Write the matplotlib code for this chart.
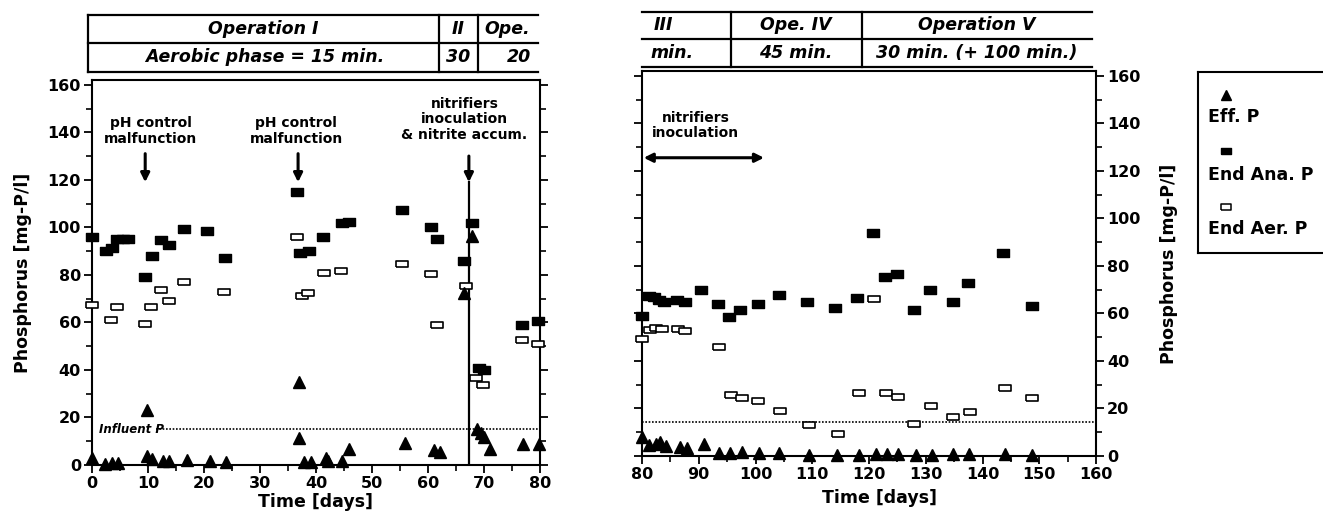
import numpy as np
import matplotlib.pyplot as plt
from matplotlib.ticker import MultipleLocator

plt.rcParams['font.family'] = ['DejaVu Sans']
plt.rcParams['font.weight'] = 'bold'

W, H = 1323, 512

# ---- left panel, days 0-80 ----
eff_x1 = [0, 2.4, 3.5, 4.6, 9.9, 9.9, 10.8, 12.7, 13.8, 17, 21, 24, 37, 37, 37.8, 39.1,
          41.8, 42.1, 44.6, 45.9, 55.9, 61, 62.1, 66.5, 67.8, 68.8, 69.5, 70, 71, 77, 79.9]
eff_y1 = [3, 0.5, 1, 1, 23.3, 3.7, 2.7, 1.6, 1.6, 2, 1.6, 1.3, 35, 11.4, 1.4, 1.4,
          3, 1.8, 1.8, 6.7, 9.4, 6.3, 5.3, 72.5, 96.4, 15, 13.5, 11.8, 6.8, 9, 9]

ana_x1 = [0, 2.5, 3.5, 4.5, 5.5, 6.5, 9.5, 10.7, 12.3, 13.7, 16.5, 20.5, 23.8, 36.6, 37.2,
          38.7, 41.3, 44.6, 45.9, 55.4, 60.5, 61.6, 66.5, 67.8, 69.1, 70.0, 76.8, 79.7]
ana_y1 = [96, 90, 91.5, 95, 95, 95, 79, 88, 94.6, 92.6, 99.5, 98.4, 87.3, 115, 89,
          90, 96, 102, 102.2, 107.3, 100, 95, 86, 102, 41, 40, 59, 60.4]

aer_x1 = [0, 3.4, 4.5, 9.4, 10.5, 12.4, 13.7, 16.5, 23.5, 36.6, 37.5, 38.6, 41.5, 44.4,
          55.4, 60.5, 61.6, 66.7, 68.6, 69.8, 76.8, 79.7]
aer_y1 = [67.4, 61, 66.3, 59.3, 66.5, 73.8, 68.8, 77.1, 72.7, 96, 71, 72.3, 81, 81.6,
          84.5, 80.5, 58.7, 75.4, 36.4, 33.5, 52.5, 51]

# ---- right panel, days 80-160 ----
eff_x2 = [80, 81.2, 82.4, 83.1, 84.2, 86.7, 88, 91, 93.5, 95.5, 97.6, 100.7, 104.2, 109.4,
          114.3, 118.3, 121.2, 123.2, 125.1, 128.2, 131.1, 134.8, 137.6, 143.9, 148.8]
eff_y2 = [8, 4.6, 4.9, 5.9, 4.2, 3.9, 3.2, 4.9, 1.4, 1.4, 1.7, 1.4, 1.1, 0.3,
          0.3, 0.3, 0.7, 0.7, 0.7, 0.3, 0.3, 0.7, 1, 1, 0.6]

ana_x2 = [80, 81.2, 82.2, 83, 83.9, 86.2, 87.6, 90.4, 93.4, 95.4, 97.3, 100.4, 104.2, 109,
          114, 117.9, 120.7, 122.9, 124.9, 128, 130.7, 134.8, 137.5, 143.7, 148.7]
ana_y2 = [59, 67.4, 66.9, 65.7, 65, 65.5, 64.8, 69.7, 63.9, 58.5, 61.3, 64, 67.6, 64.6,
          62.2, 66.4, 94, 75.5, 76.5, 61.5, 70, 64.8, 73, 85.6, 63.2]

aer_x2 = [80, 81.4, 82.5, 83.5, 86.4, 87.6, 93.5, 95.7, 97.6, 100.5, 104.4, 109.4, 114.5,
          118.3, 120.9, 123, 125.1, 128, 131, 134.8, 137.8, 143.9, 148.8]
aer_y2 = [49.2, 52.9, 53.8, 53.4, 53.4, 52.4, 45.9, 25.5, 24.5, 23, 18.9, 12.9, 9.1,
          26.6, 66.2, 26.6, 24.8, 13.3, 21, 16.5, 18.5, 28.5, 24.5]

influent_left = 15
influent_right = 14.5

# flat rectangle used for the square markers
rect = [(-1, -0.62), (1, -0.62), (1, 0.62), (-1, 0.62), (-1, -0.62)]


def fbox(x0, y0, x1, y1):
    return [x0 / W, 1 - y1 / H, (x1 - x0) / W, (y1 - y0) / H]


def style_axes(ax, xlo, xhi):
    ax.set_xlim(xlo, xhi)
    ax.set_ylim(0, 162)
    ax.xaxis.set_major_locator(MultipleLocator(10))
    ax.xaxis.set_minor_locator(MultipleLocator(5))
    ax.yaxis.set_major_locator(MultipleLocator(20))
    ax.yaxis.set_minor_locator(MultipleLocator(10))
    for s in ax.spines.values():
        s.set_linewidth(1.5)
    ax.tick_params(which='major', length=6, width=1.3, labelsize=11.5, pad=2)
    ax.tick_params(which='minor', length=4, width=1.2)
    ax.tick_params(axis='y', which='both', left=True, right=True)
    for lab in ax.get_xticklabels() + ax.get_yticklabels():
        lab.set_fontweight('bold')


def draw_series(ax, ex, ey, nx, ny, rx, ry):
    ax.plot(ex, ey, ls='none', marker='^', ms=8, color='k', clip_on=False, zorder=4)
    ax.plot(nx, ny, ls='none', marker=rect, ms=8.5, color='k', clip_on=False, zorder=4)
    ax.plot(rx, ry, ls='none', marker=rect, ms=8, mfc='white', mec='k', mew=1.2,
            clip_on=False, zorder=3)


fig = plt.figure(figsize=(W / 100, H / 100), dpi=100)

# overlay for the operation tables (pixel coordinates)
ov = fig.add_axes([0, 0, 1, 1])
ov.set_xlim(0, W)
ov.set_ylim(H, 0)
ov.axis('off')

tk = dict(color='k', lw=1.6)
for y in [15, 43, 72]:
    ov.plot([88, 538], [y, y], **tk)
for x in [88, 439, 478]:
    ov.plot([x, x], [15, 72], **tk)
for y in [12, 39, 67]:
    ov.plot([642, 1092], [y, y], **tk)
for x in [731, 862]:
    ov.plot([x, x], [12, 67], **tk)

tf = dict(fontsize=12.5, fontweight='bold', style='italic', va='center')
ov.text(263, 29, 'Operation I', ha='center', **tf)
ov.text(458, 29, 'II', ha='center', **tf)
ov.text(484, 29, 'Ope.', ha='left', **tf)
ov.text(265, 57.5, 'Aerobic phase = 15 min.', ha='center', **tf)
ov.text(458, 57.5, '30', ha='center', **tf)
ov.text(531, 57.5, '20', ha='right', **tf)
ov.text(654, 25.5, 'III', ha='left', **tf)
ov.text(796, 25.5, 'Ope. IV', ha='center', **tf)
ov.text(977, 25.5, 'Operation V', ha='center', **tf)
ov.text(650, 53, 'min.', ha='left', **tf)
ov.text(796, 53, '45 min.', ha='center', **tf)
ov.text(977, 53, '30 min. (+ 100 min.)', ha='center', **tf)

# ---- left axes ----
ax1 = fig.add_axes(fbox(92, 80, 540, 465))
style_axes(ax1, 0, 80)
ax1.tick_params(axis='y', labelleft=True, labelright=False)
draw_series(ax1, eff_x1, eff_y1, ana_x1, ana_y1, aer_x1, aer_y1)
ax1.plot([11.5, 80], [influent_left, influent_left], color='k', lw=1.2, ls=(0, (1, 1)))
ax1.text(1.2, influent_left, 'Influent P', fontsize=8.5, fontweight='bold', style='italic',
         va='center', ha='left')
ax1.plot([67.3, 67.3], [0, 119], color='k', lw=1.6)

af = dict(fontsize=10, fontweight='bold', ha='center', va='center', linespacing=1.15)
arr = dict(arrowstyle='-|>', lw=2.2, color='k', mutation_scale=13, shrinkA=0, shrinkB=0)
ax1.text(10.5, 140.5, 'pH control\nmalfunction', **af)
ax1.annotate('', xy=(9.5, 119), xytext=(9.5, 131), arrowprops=arr)
ax1.text(36.5, 140.5, 'pH control\nmalfunction', **af)
ax1.annotate('', xy=(36.8, 119), xytext=(36.8, 131), arrowprops=arr)
ax1.text(66.5, 145.5, 'nitrifiers\ninoculation\n& nitrite accum.', **af)
ax1.annotate('', xy=(67.3, 119), xytext=(67.3, 130), arrowprops=arr)
ax1.set_xlabel('Time [days]', fontsize=12.5, fontweight='bold')
ax1.set_ylabel('Phosphorus [mg-P/l]', fontsize=12.5, fontweight='bold')
ax1.xaxis.set_label_coords(0.5, -0.072)
ax1.yaxis.set_label_coords(-0.135, 0.5)

# ---- right axes ----
ax2 = fig.add_axes(fbox(642, 71, 1096, 456))
style_axes(ax2, 80, 160)
ax2.tick_params(axis='y', labelleft=False, labelright=True)
draw_series(ax2, eff_x2, eff_y2, ana_x2, ana_y2, aer_x2, aer_y2)
ax2.plot([80, 160], [influent_right, influent_right], color='k', lw=1.2, ls=(0, (1, 1)))
ax2.text(89.5, 139, 'nitrifiers\ninoculation', **af)
ax2.annotate('', xy=(80.3, 125.5), xytext=(101.5, 125.5),
             arrowprops=dict(arrowstyle='<|-|>', lw=2.2, color='k', mutation_scale=13,
                             shrinkA=0, shrinkB=0))
ax2.set_xlabel('Time [days]', fontsize=12.5, fontweight='bold')
ax2.set_ylabel('Phosphorus [mg-P/l]', fontsize=12.5, fontweight='bold')
ax2.yaxis.set_label_position('right')
ax2.xaxis.set_label_coords(0.524, -0.085)
ax2.yaxis.set_label_coords(1.14, 0.5)

# ---- legend box ----
lg = fig.add_axes(fbox(1198, 72, 1330, 253))
lg.set_xlim(1198, 1330)
lg.set_ylim(253, 72)
lg.set_xticks([])
lg.set_yticks([])
for s in lg.spines.values():
    s.set_linewidth(1.5)
lg.plot([1226], [95], ls='none', marker='^', ms=7, color='k')
lg.plot([1226], [151], ls='none', marker=rect, ms=7, color='k')
lg.plot([1226], [207], ls='none', marker=rect, ms=7, mfc='white', mec='k', mew=1.1)
lf = dict(fontsize=12.5, fontweight='bold', ha='left', va='center')
lg.text(1208, 117, 'Eff. P', **lf)
lg.text(1208, 175, 'End Ana. P', **lf)
lg.text(1208, 229, 'End Aer. P', **lf)

fig.savefig('out.png', dpi=100)
